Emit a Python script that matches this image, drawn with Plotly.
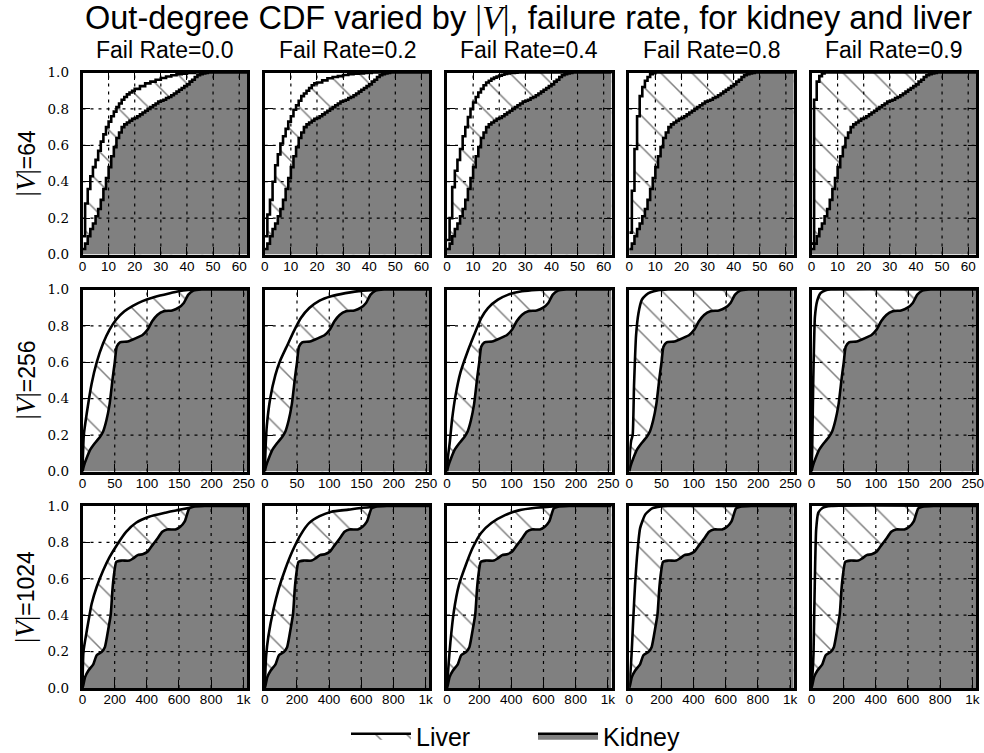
import plotly.graph_objects as go

# ---------------- data ----------------
fail_rates = ["0.0", "0.2", "0.4", "0.8", "0.9"]
graph_sizes = [64, 256, 1024]

x_ticks_64 = [0, 10, 20, 30, 40, 50, 60]
x_ticks_256 = [0, 50, 100, 150, 200, 250]
x_ticks_1024 = [0, 200, 400, 600, 800, 1000]
x_ticklabels_1024 = ["0", "200", "400", "600", "800", "1k"]
y_ticks = [0.0, 0.2, 0.4, 0.6, 0.8, 1.0]

# |V| = 64  (step CDFs)
kidney_64_deg = [0, 1, 2, 3, 4, 5, 6, 7, 8, 9, 10, 11, 12, 13, 14, 15, 16, 17, 18, 19, 20,
                 21, 22, 23, 24, 25, 26, 27, 28, 29, 30, 31, 32, 33, 34, 35, 36, 37, 38, 39,
                 40, 41, 42, 43, 44, 45, 46, 47, 48, 63]
kidney_64_cdf = [0.03, 0.06, 0.10, 0.14, 0.17, 0.21, 0.25, 0.30, 0.36, 0.42, 0.48, 0.54, 0.59,
                 0.64, 0.67, 0.70, 0.715, 0.725, 0.735, 0.745, 0.75, 0.76, 0.77, 0.78, 0.79,
                 0.80, 0.81, 0.82, 0.83, 0.84, 0.845, 0.85, 0.86, 0.865, 0.875, 0.885, 0.895,
                 0.905, 0.915, 0.925, 0.935, 0.95, 0.96, 0.975, 0.985, 0.99, 0.995, 0.998, 1.0, 1.0]

liver_64_f00_deg = [0, 1, 2, 3, 4, 5, 6, 7, 8, 9, 10, 11, 12, 13, 14, 15, 16, 17, 18, 19, 20,
                    22, 24, 26, 28, 30, 32, 34, 36, 38, 40, 43, 63]
liver_64_f00_cdf = [0.10, 0.28, 0.36, 0.43, 0.48, 0.52, 0.57, 0.62, 0.66, 0.70, 0.73, 0.76,
                    0.785, 0.81, 0.83, 0.85, 0.865, 0.88, 0.89, 0.90, 0.91, 0.925, 0.94, 0.95,
                    0.96, 0.97, 0.978, 0.985, 0.99, 0.994, 0.997, 1.0, 1.0]

liver_64_f02_deg = [0, 1, 2, 3, 4, 5, 6, 7, 8, 9, 10, 11, 12, 13, 14, 15, 16, 17, 18, 19, 20,
                    22, 24, 26, 28, 30, 32, 34, 36, 38, 41, 63]
liver_64_f02_cdf = [0.10, 0.22, 0.30, 0.40, 0.49, 0.55, 0.61, 0.65, 0.69, 0.73, 0.76, 0.795,
                    0.82, 0.845, 0.87, 0.885, 0.90, 0.915, 0.93, 0.94, 0.945, 0.957, 0.968,
                    0.975, 0.98, 0.986, 0.99, 0.993, 0.995, 0.997, 1.0, 1.0]

liver_64_f04_deg = [0, 1, 2, 3, 4, 5, 6, 7, 8, 9, 10, 11, 12, 13, 14, 15, 16, 17, 18, 19, 20,
                    21, 22, 23, 24, 26, 27, 63]
liver_64_f04_cdf = [0.08, 0.20, 0.37, 0.46, 0.52, 0.58, 0.65, 0.70, 0.755, 0.80, 0.835, 0.865,
                    0.89, 0.91, 0.93, 0.945, 0.955, 0.965, 0.972, 0.978, 0.983, 0.988, 0.992,
                    0.995, 0.997, 0.999, 1.0, 1.0]

liver_64_f08_deg = [0, 1, 2, 3, 4, 5, 6, 7, 8, 9, 10, 63]
liver_64_f08_cdf = [0.12, 0.35, 0.58, 0.76, 0.87, 0.92, 0.955, 0.975, 0.99, 0.996, 1.0, 1.0]

liver_64_f09_deg = [0, 1, 2, 3, 4, 5, 63]
liver_64_f09_cdf = [0.06, 0.85, 0.95, 0.98, 0.995, 1.0, 1.0]

# |V| = 256
kidney_256_deg = [0, 2, 6, 12, 19, 27, 32, 37, 42, 47, 50, 53, 58, 70, 83, 93, 101, 108, 116,
                  126, 139, 149, 157, 164, 172, 185, 255]
kidney_256_cdf = [0.0, 0.03, 0.07, 0.12, 0.155, 0.19, 0.22, 0.28, 0.37, 0.52, 0.60, 0.685, 0.71,
                  0.714, 0.733, 0.75, 0.78, 0.825, 0.86, 0.88, 0.885, 0.90, 0.926, 0.972, 0.994,
                  1.0, 1.0]

liver_256_f00_deg = [0, 2, 6.6, 14, 22, 32, 42, 52, 65, 78, 93, 113, 134, 149, 164, 180, 255]
liver_256_f00_cdf = [0.0, 0.2, 0.32, 0.48, 0.60, 0.705, 0.78, 0.834, 0.88, 0.91, 0.936, 0.96,
                     0.978, 0.99, 0.997, 1.0, 1.0]

liver_256_f02_deg = [0, 1.5, 3.2, 8.4, 16.4, 24, 35, 45, 56, 69, 85, 103, 125, 151, 172, 190, 255]
liver_256_f02_cdf = [0.0, 0.15, 0.25, 0.40, 0.53, 0.61, 0.694, 0.77, 0.843, 0.898, 0.939, 0.963,
                     0.98, 0.994, 0.998, 1.0, 1.0]

liver_256_f04_deg = [0, 1.5, 4.2, 7.9, 13.2, 21, 31.7, 42, 53, 63.5, 79, 95, 116, 138, 160, 255]
liver_256_f04_cdf = [0.0, 0.08, 0.157, 0.287, 0.417, 0.546, 0.657, 0.75, 0.843, 0.898, 0.944,
                     0.972, 0.99, 0.998, 1.0, 1.0]

liver_256_f08_deg = [0, 1, 3, 5.3, 7.4, 10.6, 14.3, 19.6, 26, 33, 45, 60, 255]
liver_256_f08_cdf = [0.0, 0.10, 0.17, 0.20, 0.47, 0.75, 0.87, 0.944, 0.97, 0.985, 0.996, 1.0, 1.0]

liver_256_f09_deg = [0, 1, 2.6, 3.7, 5.3, 9, 14, 22, 30, 255]
liver_256_f09_cdf = [0.0, 0.11, 0.48, 0.665, 0.85, 0.94, 0.98, 0.996, 1.0, 1.0]

# |V| = 1024
kidney_1024_deg = [0, 6, 16, 37, 67, 88, 118, 139, 159, 176, 186, 194, 210, 241, 292, 312, 343,
                   374, 404, 435, 465, 496, 527, 578, 608, 635, 649, 664, 690, 760, 1023]
kidney_1024_cdf = [0.0, 0.02, 0.06, 0.096, 0.13, 0.18, 0.197, 0.224, 0.316, 0.408, 0.537, 0.61,
                   0.693, 0.70, 0.70, 0.71, 0.73, 0.735, 0.748, 0.785, 0.82, 0.858, 0.871, 0.871,
                   0.886, 0.914, 0.95, 0.987, 0.996, 1.0, 1.0]

liver_1024_f00_deg = [0, 6, 27, 57, 88, 129, 169, 220, 271, 333, 414, 516, 618, 720, 780, 1023]
liver_1024_f00_cdf = [0.0, 0.2, 0.316, 0.463, 0.555, 0.647, 0.72, 0.794, 0.858, 0.908, 0.941,
                      0.963, 0.982, 0.996, 1.0, 1.0]

liver_1024_f02_deg = [0, 8.5, 23, 55, 87, 129, 171, 224, 277, 341, 415, 521, 605, 711, 800, 1023]
liver_1024_f02_cdf = [0.0, 0.176, 0.287, 0.435, 0.546, 0.657, 0.75, 0.843, 0.907, 0.944, 0.969,
                      0.98, 0.99, 0.996, 1.0, 1.0]

liver_1024_f04_deg = [0, 10.6, 21, 42, 74, 117, 159, 212, 276, 361, 446, 552, 658, 720, 1023]
liver_1024_f04_cdf = [0.0, 0.139, 0.25, 0.417, 0.565, 0.676, 0.769, 0.852, 0.907, 0.95, 0.976,
                      0.99, 0.998, 1.0, 1.0]

liver_1024_f08_deg = [0, 8.5, 15, 25, 36, 51, 68, 100, 142, 195, 240, 1023]
liver_1024_f08_cdf = [0.0, 0.10, 0.194, 0.38, 0.565, 0.75, 0.88, 0.954, 0.987, 0.998, 1.0, 1.0]

liver_1024_f09_deg = [0, 8, 12.6, 17, 23, 29, 42, 69, 122, 1023]
liver_1024_f09_cdf = [0.0, 0.10, 0.193, 0.413, 0.69, 0.87, 0.963, 0.99, 1.0, 1.0]

# ---------------- tables built from the arrays ----------------
kidney = {
    64: (kidney_64_deg, kidney_64_cdf),
    256: (kidney_256_deg, kidney_256_cdf),
    1024: (kidney_1024_deg, kidney_1024_cdf),
}
liver = {
    64: [(liver_64_f00_deg, liver_64_f00_cdf), (liver_64_f02_deg, liver_64_f02_cdf),
         (liver_64_f04_deg, liver_64_f04_cdf), (liver_64_f08_deg, liver_64_f08_cdf),
         (liver_64_f09_deg, liver_64_f09_cdf)],
    256: [(liver_256_f00_deg, liver_256_f00_cdf), (liver_256_f02_deg, liver_256_f02_cdf),
          (liver_256_f04_deg, liver_256_f04_cdf), (liver_256_f08_deg, liver_256_f08_cdf),
          (liver_256_f09_deg, liver_256_f09_cdf)],
    1024: [(liver_1024_f00_deg, liver_1024_f00_cdf), (liver_1024_f02_deg, liver_1024_f02_cdf),
           (liver_1024_f04_deg, liver_1024_f04_cdf), (liver_1024_f08_deg, liver_1024_f08_cdf),
           (liver_1024_f09_deg, liver_1024_f09_cdf)],
}
x_ticks = {64: (x_ticks_64, [str(v) for v in x_ticks_64]),
           256: (x_ticks_256, [str(v) for v in x_ticks_256]),
           1024: (x_ticks_1024, x_ticklabels_1024)}

# ---------------- layout geometry (pixels) ----------------
W, H = 984, 753
col_left = [82.5, 264.75, 447.0, 629.25, 811.5]
col_w = 164.5
row_top = [72.5, 289.5, 506.0]
row_h = 182.0

SANS = "Liberation Sans, Arial, sans-serif"
SERIF_TICK = "DejaVu Serif, serif"
MATH = "Liberation Serif, serif"
LINE_W = 2.6
GRAY = "#808080"

fig = go.Figure()
shapes = []
annotations = []

for r, n in enumerate(graph_sizes):
    kx, ky = kidney[n]
    tv, tt = x_ticks[n]
    shape_mode = "hv" if n == 64 else "spline"
    for c, fr in enumerate(fail_rates):
        idx = r * 5 + c + 1
        xa = "x" if idx == 1 else f"x{idx}"
        ya = "y" if idx == 1 else f"y{idx}"
        lx, ly = liver[n][c]
        first = idx == 1
        fig.add_trace(go.Scatter(
            x=lx, y=ly, xaxis=xa, yaxis=ya, mode="lines", name="Liver",
            line=dict(color="black", width=LINE_W, shape=shape_mode, smoothing=0.5),
            fill="tozeroy", fillcolor="white",
            fillpattern=dict(shape="\\", fgcolor="black", bgcolor="white",
                             size=22, solidity=0.07),
            showlegend=first, legendgroup="liver", hoverinfo="skip"))
        fig.add_trace(go.Scatter(
            x=kx, y=ky, xaxis=xa, yaxis=ya, mode="lines", name="Kidney",
            line=dict(color="black", width=LINE_W, shape=shape_mode, smoothing=0.5),
            fill="tozeroy", fillcolor=GRAY,
            showlegend=first, legendgroup="kidney", hoverinfo="skip"))

        x0 = col_left[c] / W
        x1 = (col_left[c] + col_w) / W
        y1 = 1 - row_top[r] / H
        y0 = 1 - (row_top[r] + row_h) / H
        axis_common = dict(showline=True, linecolor="black", linewidth=LINE_W, mirror="allticks",
                           ticks="inside", ticklen=8, tickwidth=1.4, tickcolor="black",
                           showgrid=False, zeroline=False, layer="above traces",
                           fixedrange=True, automargin=False, ticklabeloverflow="allow")
        fig.update_layout({
            ("xaxis" if idx == 1 else f"xaxis{idx}"): dict(
                domain=[x0, x1], anchor=ya, range=[0, n - 1],
                tickmode="array", tickvals=tv, ticktext=tt,
                tickfont=dict(family=SANS, size=13.5, color="black"),
                ticklabelstandoff=-3, **axis_common),
            ("yaxis" if idx == 1 else f"yaxis{idx}"): dict(
                domain=[y0, y1], anchor=xa, range=[0, 1],
                tickmode="array", tickvals=y_ticks, tickformat=".1f",
                showticklabels=(c == 0),
                tickfont=dict(family=SERIF_TICK, size=13.5, color="black"),
                ticklabelstandoff=8, **axis_common),
        })
        # dotted grid drawn above the fills
        for v in tv:
            if 0 < v < n - 1:
                shapes.append(dict(type="line", xref=xa, yref=f"{ya} domain",
                                   x0=v, x1=v, y0=0, y1=1, layer="above",
                                   line=dict(color="black", width=1.2, dash="3px,5px")))
        for v in y_ticks:
            if 0 < v < 1:
                shapes.append(dict(type="line", xref=f"{xa} domain", yref=ya,
                                   x0=0, x1=1, y0=v, y1=v, layer="above",
                                   line=dict(color="black", width=1.2, dash="3px,5px")))

# column titles
for c, fr in enumerate(fail_rates):
    annotations.append(dict(text=f"Fail Rate={fr}", xref="paper", yref="paper",
                            x=(col_left[c] + col_w / 2) / W, y=1 - row_top[0] / H,
                            xanchor="center", yanchor="bottom", yshift=8, showarrow=False,
                            font=dict(family=SANS, size=23, color="black")))
# row labels
for r, n in enumerate(graph_sizes):
    annotations.append(dict(
        text=f"<span style=\"font-family:{MATH}; font-size:27px\">|<i>V</i>|</span>={n}",
        xref="paper", yref="paper", x=25 / W, y=1 - (row_top[r] + row_h / 2) / H,
        xanchor="center", yanchor="middle", textangle=-90, showarrow=False,
        font=dict(family=SANS, size=23, color="black")))
# main title
annotations.append(dict(
    text=("Out-degree CDF varied by <span style=\"font-family:" + MATH + "; font-size:34px\">"
          "|<i>V</i>|</span>, failure rate, for kidney and liver"),
    xref="paper", yref="paper", x=528 / W, y=1.0, xanchor="center", yanchor="top", yshift=3,
    showarrow=False, font=dict(family=SANS, size=32.5, color="black")))

fig.update_layout(
    width=W, height=H, margin=dict(l=0, r=0, t=0, b=0, autoexpand=False),
    paper_bgcolor="white", plot_bgcolor="white",
    shapes=shapes, annotations=annotations,
    showlegend=True,
    legend=dict(orientation="h", x=346 / W, xanchor="left", y=1 - 736 / H, yanchor="middle",
                font=dict(family=SANS, size=25, color="black"), itemwidth=60,
                bgcolor="rgba(0,0,0,0)", traceorder="normal", itemclick=False,
                itemdoubleclick=False, entrywidth=112),
)

fig.write_html("out.html", config={"displayModeBar": False},
               post_script="document.body.style.margin='0';")
